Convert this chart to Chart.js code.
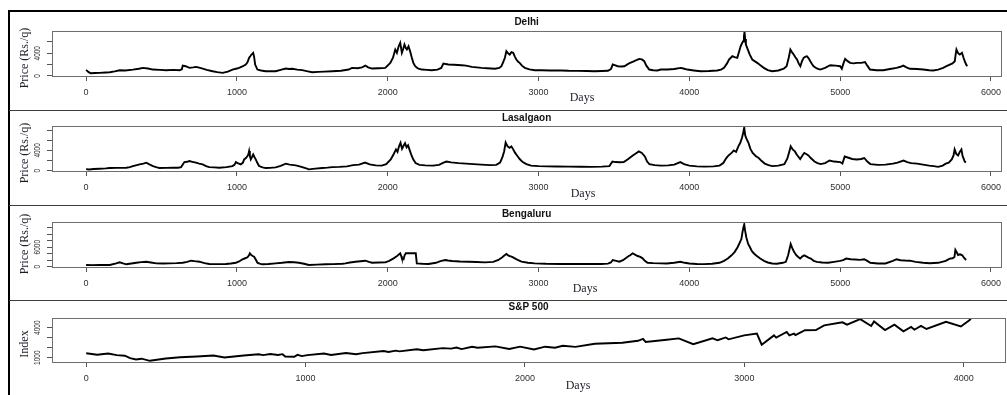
<!DOCTYPE html>
<html>
<head>
<meta charset="utf-8">
<script src="https://cdn.jsdelivr.net/npm/chart.js@4.4.1/dist/chart.umd.min.js"></script>
<style>
  html, body { margin: 0; padding: 0; background: #fff; }
  #wrap { position: relative; width: 1007px; height: 395px; overflow: hidden; background: #fff; }
  #wrap canvas { position: absolute; left: 0; }
  .frame { position: absolute; left: 8px; top: 10px; width: 1020px; height: 420px; border: 2px solid #000; box-sizing: border-box; }
  .sep { position: absolute; left: 9px; width: 1000px; height: 1px; background: #3c3c3c; }
</style>
</head>
<body>
<div id="wrap">
  <canvas id="c0"></canvas>
  <canvas id="c1"></canvas>
  <canvas id="c2"></canvas>
  <canvas id="c3"></canvas>
  <div class="frame"></div>
  <div class="sep" style="top:110px"></div>
  <div class="sep" style="top:205px"></div>
  <div class="sep" style="top:300px"></div>
</div>
<script>
// ---------------- data: onion modal prices (Rs./quintal) by day index ----------------
const delhiDays = [0,15,30,60,90,130,157,190,223,260,310,350,377,410,443,490,531,580,619,635,641,660,685,710,729,750,773,800,839,870,905,940,971,1000,1015,1040,1059,1070,1081,1090,1097,1108,1114,1121,1136,1160,1191,1220,1257,1290,1324,1345,1368,1400,1433,1470,1499,1540,1580,1632,1690,1741,1763,1800,1830,1852,1870,1896,1940,1984,2017,2035,2050,2061,2072,2083,2094,2103,2111,2120,2127,2138,2150,2160,2170,2182,2200,2226,2260,2292,2330,2355,2369,2402,2440,2490,2520,2557,2590,2622,2660,2711,2740,2754,2765,2777,2787,2798,2809,2820,2832,2843,2853,2865,2875,2890,2909,2940,2975,3020,3080,3151,3200,3260,3320,3371,3420,3460,3480,3492,3510,3525,3550,3569,3600,3635,3650,3668,3685,3701,3715,3734,3760,3789,3811,3855,3900,3943,3960,3987,4030,4074,4130,4185,4210,4230,4250,4263,4275,4285,4300,4318,4330,4340,4350,4357,4362,4366,4370,4375,4388,4400,4417,4450,4475,4494,4520,4549,4590,4626,4645,4659,4670,4680,4692,4703,4714,4725,4736,4747,4758,4770,4780,4791,4802,4813,4824,4845,4868,4900,4934,4970,5000,5011,5022,5033,5050,5066,5090,5110,5140,5165,5180,5198,5240,5286,5330,5374,5400,5418,5440,5462,5510,5551,5590,5617,5650,5683,5705,5727,5745,5760,5766,5771,5782,5793,5800,5808,5817,5826,5834,5842];
const delhiPrice = [1050,700,450,500,530,600,640,800,990,950,1100,1250,1410,1300,1110,1050,1000,1050,1000,1150,1820,1700,1410,1500,1590,1450,1290,1050,810,650,530,750,1110,1300,1410,1700,2000,2400,3190,3500,3770,4070,3400,2000,1110,950,810,800,810,1050,1290,1200,1250,1100,1000,800,640,700,750,810,900,1110,1410,1350,1500,1820,1500,1290,1350,1410,2300,3200,4650,4070,5200,5840,4070,4800,5540,4900,4650,5240,4200,3190,2300,1700,1300,1110,1050,1000,1100,1400,2180,2000,1950,1880,1800,1590,1500,1410,1350,1250,1400,1700,2400,3190,4360,4000,3770,4200,4070,3400,2890,2500,2300,1800,1410,1150,1000,980,950,950,900,880,850,810,850,900,1200,2000,1850,1700,1650,1700,2200,2590,2800,3000,2900,2590,1800,1110,1000,940,1110,1110,1200,1410,1300,1110,950,810,850,940,1100,1410,2200,2890,3200,3470,3300,3190,4300,5240,5800,6120,7000,7790,6500,5540,4650,3800,2890,2300,1800,1410,1000,810,950,1250,1700,3190,4650,4200,3770,3300,2890,2200,1700,2600,3190,3400,3470,3100,2590,2100,1700,1300,1110,1400,1880,1800,1700,1250,2200,3000,2600,2300,2200,2300,2300,2440,1800,1110,1000,1000,1200,1410,1600,1820,1500,1250,1200,1110,1000,940,1100,1410,1700,2000,2200,2590,3800,4650,4000,3770,3900,4070,3300,2590,2100,1700];

const lasalgaonDays = [0,20,50,90,130,157,200,267,290,310,330,355,380,399,420,443,465,487,530,575,610,630,652,670,685,705,729,750,773,795,817,850,883,930,971,985,993,1005,1026,1040,1048,1060,1070,1076,1081,1086,1092,1100,1108,1116,1125,1136,1147,1170,1191,1220,1257,1290,1324,1350,1390,1410,1433,1460,1477,1520,1566,1600,1632,1680,1730,1770,1810,1850,1880,1920,1960,1990,2020,2040,2055,2065,2075,2085,2095,2105,2115,2125,2135,2145,2158,2170,2185,2210,2250,2300,2340,2370,2390,2420,2470,2520,2570,2620,2680,2720,2745,2760,2772,2782,2795,2808,2820,2832,2845,2860,2875,2895,2920,2950,3000,3060,3120,3200,3280,3350,3420,3470,3490,3510,3540,3565,3595,3625,3645,3665,3685,3705,3720,3735,3770,3810,3860,3900,3940,3965,4000,4050,4100,4160,4200,4225,4245,4260,4280,4295,4310,4325,4338,4350,4358,4364,4370,4380,4392,4405,4420,4440,4460,4480,4500,4525,4550,4590,4630,4650,4665,4672,4685,4700,4712,4722,4735,4750,4762,4775,4790,4805,4830,4850,4870,4900,4930,4960,5000,5015,5030,5050,5080,5110,5140,5160,5180,5200,5250,5300,5350,5380,5420,5445,5470,5510,5550,5590,5620,5650,5680,5700,5720,5740,5752,5759,5770,5782,5795,5804,5812,5820,5826,5835];
const lasalgaonPrice = [300,250,320,390,450,520,560,590,700,910,1050,1240,1400,1580,1250,910,700,520,560,590,580,700,1700,1750,1890,1750,1580,1400,1240,900,710,650,590,700,910,1200,1700,1500,1240,1600,2230,2500,2880,3200,3860,2900,2230,2700,3210,2700,2230,1500,910,650,520,560,660,950,1380,1200,1050,900,710,450,260,400,520,600,710,750,850,1100,1200,1600,1250,1050,1000,1300,2200,3300,4200,3700,4800,5500,4300,4900,5400,4600,5000,4100,3000,2200,1500,1150,1050,1000,1150,1600,1800,1650,1500,1400,1300,1200,1100,1150,1600,2600,3800,5570,4800,4500,4800,4200,3500,2900,2300,1700,1300,1000,900,850,820,800,780,760,800,900,1800,1700,1650,1700,2300,3000,3400,3800,3500,2800,1800,1300,1100,1000,1050,1200,1700,1300,1000,850,800,850,1000,1500,2500,3000,3500,4000,3700,4800,5500,6600,7600,8500,7000,6200,5500,4300,3500,2900,2500,1900,1400,1100,900,1000,1300,2400,4000,4800,4200,3800,3200,2800,2300,3000,3500,3300,3000,2500,1800,1500,1300,1500,2000,1800,1700,1400,2800,2600,2300,2200,2300,2500,1800,1300,1150,1200,1400,1600,2000,1700,1500,1400,1200,1000,900,750,1000,1380,1600,2230,3000,4190,3300,3000,3800,4190,2880,2300,1770,1700];

const bengaluruDays = [0,40,90,157,200,223,245,267,300,333,365,399,430,465,510,553,600,641,670,696,720,751,785,817,870,927,960,993,1015,1037,1055,1070,1080,1086,1095,1105,1114,1125,1136,1150,1169,1210,1257,1300,1345,1380,1411,1445,1477,1530,1587,1640,1700,1719,1750,1786,1820,1852,1875,1896,1940,1984,2010,2039,2060,2083,2090,2094,2105,2112,2120,2186,2193,2230,2270,2320,2350,2381,2400,2425,2480,2535,2590,2645,2700,2734,2760,2775,2787,2798,2810,2825,2843,2865,2887,2930,2975,3050,3151,3280,3415,3460,3480,3492,3515,3536,3560,3591,3610,3624,3640,3657,3675,3690,3705,3723,3760,3811,3850,3900,3940,3970,4000,4050,4100,4150,4200,4230,4255,4280,4300,4320,4335,4345,4352,4358,4364,4370,4378,4390,4402,4415,4430,4450,4470,4495,4520,4550,4580,4620,4640,4655,4665,4672,4682,4695,4710,4722,4735,4750,4762,4775,4790,4805,4825,4845,4880,4920,4960,5000,5020,5040,5070,5100,5130,5160,5180,5200,5250,5300,5350,5374,5400,5430,5462,5500,5550,5594,5650,5700,5727,5745,5758,5764,5772,5782,5795,5810,5822,5835];
const bengaluruPrice = [520,500,520,520,1030,1350,1000,740,1000,1230,1400,1540,1300,1030,1000,1030,1100,1230,1500,1850,1700,1540,1100,830,800,830,1000,1230,1600,2270,2600,2890,3500,4120,3600,3300,3080,2200,1230,950,740,850,1030,1200,1450,1350,1230,900,520,650,740,800,900,1030,1300,1540,1700,1850,1500,1230,1280,1330,1800,2580,3200,4120,3200,2580,2270,3500,4120,4120,1030,900,830,1200,1700,2060,1900,1750,1600,1540,1450,1330,1500,2060,2900,3500,3900,3500,3290,3000,2580,2000,1540,1200,1030,900,830,820,830,950,1300,2060,1800,1540,2000,3080,3600,4120,3700,3290,3000,2580,1800,1230,1100,1030,1000,1200,1500,1200,1000,850,800,900,1200,1800,2500,3500,4500,6000,7500,8500,10500,12000,13000,11000,9000,7000,6000,4800,4000,3200,2500,1800,1300,1000,900,1200,1500,3500,5500,7000,5800,4500,3500,3000,2500,3200,3500,3200,2800,2500,1800,1500,1300,1200,1500,1800,2000,2500,2300,2200,2100,2300,1800,1200,1000,1000,1800,2300,2000,1900,1850,1500,1200,1050,1200,1800,2500,2580,3000,5140,4500,3600,3800,3500,2700,2060];

// ---------------- data: S&P 500 index by trading day ----------------
const spDays = [0,50,100,139,176,200,227,252,290,363,428,504,580,630,718,786,806,839,874,895,907,948,963,983,1008,1084,1116,1184,1230,1260,1356,1378,1411,1428,1507,1537,1625,1663,1688,1711,1759,1784,1865,1928,1978,2041,2092,2137,2172,2230,2318,2444,2515,2538,2550,2646,2701,2767,2855,2878,2915,2928,2999,3057,3079,3135,3145,3193,3205,3226,3233,3276,3326,3364,3447,3468,3528,3578,3591,3641,3684,3725,3760,3775,3805,3830,3919,3987,4027,4032];
const spIndex = [1440,1300,1420,1260,1200,950,820,900,690,920,1050,1120,1217,1022,1225,1343,1256,1363,1268,1353,1119,1099,1285,1158,1258,1419,1278,1465,1353,1460,1669,1573,1709,1630,1848,1741,1960,1909,2011,1862,2090,1992,2130,1867,2109,1829,2100,2000,2190,2085,2400,2500,2690,2873,2581,2800,2930,2351,2945,2744,3025,2840,3230,3420,2300,3232,3009,3580,3237,3400,3270,3750,3768,4232,4537,4300,4860,4170,4631,3760,4305,3640,4071,3800,4179,3870,4588,4117,4769,4900];

// ---------------- ticks and labels ----------------
const priceXTicks = [0, 1000, 2000, 3000, 4000, 5000, 6000];
const priceXLabels = ['0', '1000', '2000', '3000', '4000', '5000', '6000'];
const spXTicks = [0, 1000, 2000, 3000, 4000];
const spXLabels = ['0', '1000', '2000', '3000', '4000'];
const delhiYTicks = [0, 2000, 4000, 6000];
const delhiYLabels = ['0', '', '4000', ''];
const lasalgaonYTicks = [0, 2000, 4000, 6000, 8000];
const lasalgaonYLabels = ['0', '', '4000', '', ''];
const bengaluruYTicks = [0, 2000, 4000, 6000, 8000, 10000, 12000];
const bengaluruYLabels = ['0', '', '', '6000', '', '', ''];
const spYTicks = [1000, 2000, 3000, 4000];
const spYLabels = ['1000', '', '', '4000'];

const panelTitles = ['Delhi', 'Lasalgaon', 'Bengaluru', 'S&P 500'];
const yTitles = ['Price (Rs./q)', 'Price (Rs./q)', 'Price (Rs./q)', 'Index'];
const xTitle = 'Days';

// ---------------- panel geometry (page pixels) ----------------
const panels = [
  { id: 'c0', top: 11, bottom: 109, box: { l: 52, t: 31, r: 1005, b: 76 }, xr: [-226, 6068], yr: [-30, 7935],
    days: delhiDays, vals: delhiPrice, xt: priceXTicks, xl: priceXLabels, yt: delhiYTicks, yl: delhiYLabels,
    title: panelTitles[0], yTitle: yTitles[0], titleY: 22, yTitleY: 58, daysX: 582, daysY: 98 },
  { id: 'c1', top: 111, bottom: 204, box: { l: 52, t: 126, r: 1005, b: 171 }, xr: [-226, 6068], yr: [-60, 8807],
    days: lasalgaonDays, vals: lasalgaonPrice, xt: priceXTicks, xl: priceXLabels, yt: lasalgaonYTicks, yl: lasalgaonYLabels,
    title: panelTitles[1], yTitle: yTitles[1], titleY: 118, yTitleY: 153, daysX: 583, daysY: 194 },
  { id: 'c2', top: 206, bottom: 299, box: { l: 52, t: 222, r: 1005, b: 267 }, xr: [-226, 6068], yr: [-90, 13750],
    days: bengaluruDays, vals: bengaluruPrice, xt: priceXTicks, xl: priceXLabels, yt: bengaluruYTicks, yl: bengaluruYLabels,
    title: panelTitles[2], yTitle: yTitles[2], titleY: 214, yTitleY: 244, daysX: 585, daysY: 289 },
  { id: 'c3', top: 301, bottom: 395, box: { l: 52, t: 318, r: 1005, b: 362 }, xr: [-156, 4188], yr: [570, 4970],
    days: spDays, vals: spIndex, xt: spXTicks, xl: spXLabels, yt: spYTicks, yl: spYLabels,
    title: panelTitles[3], yTitle: yTitles[3], titleY: 307, yTitleY: 344, daysX: 578, daysY: 386 }
];

const SANS = "'Liberation Sans', Arial, sans-serif";
const SERIF = "'Liberation Serif', 'Times New Roman', serif";

// draws the plot frame, panel title, axis titles and rotated y tick labels
const panelDecor = {
  id: 'panelDecor',
  afterDraw(chart) {
    const p = chart.options.plugins.panelDecor;
    const ctx = chart.ctx;
    const a = chart.chartArea;
    ctx.save();
    ctx.strokeStyle = '#6e6e6e';
    ctx.lineWidth = 1;
    ctx.strokeRect(Math.round(a.left) + 0.5, Math.round(a.top) + 0.5,
                   Math.round(a.right - a.left), Math.round(a.bottom - a.top));

    ctx.fillStyle = '#111';
    ctx.textAlign = 'center';
    ctx.textBaseline = 'middle';
    ctx.font = 'bold 10px ' + SANS;
    ctx.fillText(p.title, (a.left + a.right) / 2, p.titleY - p.top);

    ctx.font = '12px ' + SERIF;
    ctx.fillStyle = '#1d1d2a';
    ctx.fillText(xTitle, p.daysX, p.daysY - p.top);

    ctx.save();
    ctx.translate(25, p.yTitleY - p.top);
    ctx.rotate(-Math.PI / 2);
    ctx.fillText(p.yTitle, 0, 0);
    ctx.restore();

    const ys = chart.scales.y;
    ctx.fillStyle = '#2e2e2e';
    ctx.font = '8.5px ' + SANS;
    p.yt.forEach((v, i) => {
      if (!p.yl[i]) return;
      ctx.save();
      ctx.translate(38, ys.getPixelForValue(v));
      ctx.rotate(-Math.PI / 2);
      ctx.scale(0.76, 1);
      ctx.fillText(p.yl[i], 0, 0);
      ctx.restore();
    });
    ctx.restore();
  }
};

panels.forEach(p => {
  const cv = document.getElementById(p.id);
  const h = p.bottom - p.top;
  cv.width = 1007; cv.height = h;
  cv.style.width = '1007px'; cv.style.height = h + 'px';
  cv.style.top = p.top + 'px';

  new Chart(cv, {
    type: 'line',
    data: {
      datasets: [{
        data: p.days.map((d, i) => ({ x: d, y: p.vals[i] })),
        borderColor: '#000',
        borderWidth: 1.9,
        pointRadius: 0,
        tension: 0,
        fill: false
      }]
    },
    options: {
      responsive: false,
      animation: false,
      devicePixelRatio: 1,
      events: [],
      layout: { padding: { left: 0, right: 1007 - p.box.r, top: p.box.t - p.top, bottom: 0 } },
      plugins: {
        legend: { display: false },
        tooltip: { enabled: false },
        title: { display: false },
        panelDecor: { title: p.title, yTitle: p.yTitle, titleY: p.titleY, yTitleY: p.yTitleY,
                      daysX: p.daysX, daysY: p.daysY, top: p.top, yt: p.yt, yl: p.yl }
      },
      scales: {
        x: {
          type: 'linear',
          min: p.xr[0], max: p.xr[1],
          afterFit: s => { s.height = p.bottom - p.box.b; },
          afterBuildTicks: s => { s.ticks = p.xt.map(v => ({ value: v })); },
          grid: { drawOnChartArea: false, drawTicks: true, tickLength: 5, color: '#555', lineWidth: 1 },
          border: { display: false },
          ticks: {
            font: { family: SANS, size: 9 },
            color: '#303030',
            padding: 6,
            maxRotation: 0,
            autoSkip: false,
            callback: (v, i) => p.xl[i]
          }
        },
        y: {
          type: 'linear',
          min: p.yr[0], max: p.yr[1],
          afterFit: s => { s.width = p.box.l; },
          afterBuildTicks: s => { s.ticks = p.yt.map(v => ({ value: v })); },
          grid: { drawOnChartArea: false, drawTicks: true, tickLength: 5, color: '#555', lineWidth: 1 },
          border: { display: false },
          ticks: { display: false }
        }
      }
    },
    plugins: [panelDecor]
  });
});
</script>
</body>
</html>
